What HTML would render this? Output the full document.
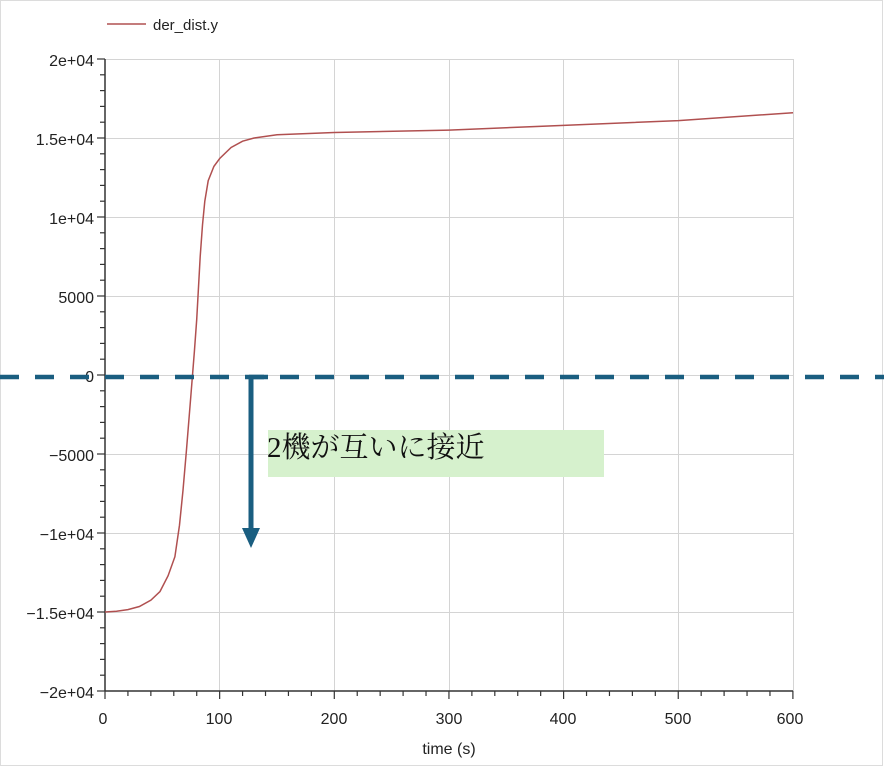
<!DOCTYPE html>
<html><head><meta charset="utf-8"><style>
html,body{margin:0;padding:0;background:#fff;width:884px;height:768px;overflow:hidden}
</style></head><body>
<svg width="884" height="768" viewBox="0 0 884 768" xmlns="http://www.w3.org/2000/svg" font-family="Liberation Sans, sans-serif">
<rect x="0.5" y="0.5" width="882" height="765" fill="#fff" stroke="#dcdcdc"/>
<g stroke="#d4d4d4" stroke-width="1">
<line x1="219.5" y1="59" x2="219.5" y2="691"/><line x1="334.5" y1="59" x2="334.5" y2="691"/>
<line x1="449.5" y1="59" x2="449.5" y2="691"/><line x1="563.5" y1="59" x2="563.5" y2="691"/>
<line x1="678.5" y1="59" x2="678.5" y2="691"/><line x1="793.5" y1="59" x2="793.5" y2="691"/>
<line x1="105" y1="59.5" x2="793" y2="59.5"/><line x1="105" y1="138.5" x2="793" y2="138.5"/>
<line x1="105" y1="217.5" x2="793" y2="217.5"/><line x1="105" y1="296.5" x2="793" y2="296.5"/>
<line x1="105" y1="375.5" x2="793" y2="375.5"/><line x1="105" y1="454.5" x2="793" y2="454.5"/>
<line x1="105" y1="533.5" x2="793" y2="533.5"/><line x1="105" y1="612.5" x2="793" y2="612.5"/>
</g>
<g stroke="#333" stroke-width="1.5">
<line x1="105" y1="59" x2="105" y2="691"/><line x1="105" y1="691" x2="793" y2="691"/>
</g>
<g id="yt" stroke="#333" stroke-width="1.2"></g>
<g id="xt" stroke="#333" stroke-width="1.2"></g>
<g font-size="16" fill="#222" text-anchor="end">
<text x="94" y="66">2e+04</text><text x="94" y="145">1.5e+04</text><text x="94" y="224">1e+04</text>
<text x="94" y="303">5000</text><text x="94" y="382">0</text><text x="94" y="461">−5000</text>
<text x="94" y="540">−1e+04</text><text x="94" y="619">−1.5e+04</text><text x="94" y="698">−2e+04</text>
</g>
<g font-size="16" fill="#222" text-anchor="middle">
<text x="103" y="724">0</text><text x="219" y="724">100</text><text x="334" y="724">200</text>
<text x="449" y="724">300</text><text x="563" y="724">400</text><text x="678" y="724">500</text><text x="790" y="724">600</text>
<text x="449" y="754">time (s)</text>
</g>
<line x1="107" y1="24" x2="146" y2="24" stroke="#b05050" stroke-width="1.5"/>
<text x="153" y="30" font-size="15" fill="#222">der_dist.y</text>
<polyline id="c" fill="none" stroke="#b05050" stroke-width="1.5"/>
<line x1="0" y1="377" x2="884" y2="377" stroke="#1a5e80" stroke-width="4.5" stroke-dasharray="19,16"/>
<line x1="251" y1="377" x2="251" y2="530" stroke="#1a5e80" stroke-width="5"/>
<polygon points="242,528 260,528 251,548" fill="#1a5e80"/>
<line x1="249" y1="377" x2="268" y2="377" stroke="#1a5e80" stroke-width="4.5"/>
<rect x="268" y="430" width="336" height="47" fill="#d6f1cd"/>
<text x="267" y="457" font-size="29" fill="#111" font-family="Liberation Serif, Noto Serif CJK SC, serif">2機が互いに接近</text>
</svg>
<script>
var yt=document.getElementById('yt'),s='';
for(var i=0;i<=40;i++){var y=59+i*15.8;var l=(i%5==0)?8:5;s+='<line x1="'+(105-l)+'" y1="'+y+'" x2="105" y2="'+y+'"/>';}
yt.innerHTML=s;s='';
for(var i=0;i<=30;i++){var x=105+i*22.93;var l=(i%5==0)?8:5;s+='<line x1="'+x+'" y1="691" x2="'+x+'" y2="'+(691+l)+'"/>';}
document.getElementById('xt').innerHTML=s;
var d=[[0,-15000],[10,-14950],[20,-14850],[30,-14650],[40,-14250],[48,-13700],[55,-12700],[61,-11500],[65,-9500],[68,-7300],[71,-4800],[75,-1200],[78,1500],[80,3500],[83,7500],[85,9500],[87,11000],[90,12300],[95,13200],[100,13700],[110,14400],[120,14800],[130,15000],[150,15200],[200,15350],[300,15500],[400,15800],[500,16100],[600,16600]];
var p=d.map(function(a){return (105+a[0]*1.1467).toFixed(1)+','+(375-a[1]*0.0158).toFixed(1)}).join(' ');
document.getElementById('c').setAttribute('points',p);
</script>
</body></html>
